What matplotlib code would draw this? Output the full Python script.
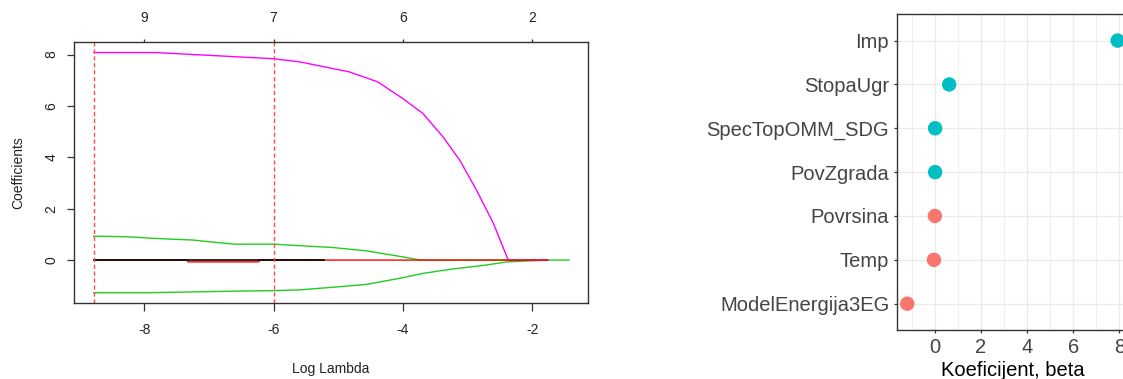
import matplotlib.pyplot as plt
import numpy as np

plt.rcParams['font.family'] = ['Liberation Sans', 'DejaVu Sans']
plt.rcParams['axes.unicode_minus'] = False

# lasso coefficient paths (log lambda, coefficient)
imp_loglam = [-8.78, -7.81, -6.0, -5.6, -4.83, -4.39, -4.0, -3.69, -3.38, -3.12, -2.86, -2.6, -2.37, -1.76]
imp_coef = [8.08, 8.08, 7.84, 7.72, 7.33, 6.94, 6.29, 5.71, 4.80, 3.89, 2.72, 1.43, 0.0, 0.0]

pos_loglam = [-8.78, -8.27, -7.81, -7.24, -6.98, -6.6, -6.0, -5.6, -5.09, -4.57, -4.11, -3.72, -1.76]
pos_coef = [0.93, 0.91, 0.84, 0.78, 0.71, 0.62, 0.62, 0.56, 0.49, 0.36, 0.17, 0.0, 0.0]

neg_loglam = [-8.78, -7.91, -6.6, -6.0, -5.6, -5.09, -4.57, -4.05, -3.69, -3.27, -2.7, -2.39, -1.76, -1.43]
neg_coef = [-1.27, -1.27, -1.21, -1.19, -1.16, -1.06, -0.95, -0.71, -0.52, -0.36, -0.19, -0.07, 0.0, 0.0]

red_loglam = [-8.78, -7.34, -7.32, -6.23, -6.21, -1.76]
red_coef = [0.0, 0.0, -0.07, -0.07, 0.0, 0.0]

black_loglam = [-8.78, -5.22]
black_coef = [0.0, 0.0]

lambda_min = -8.78
lambda_1se = -6.0
top_loglam = [-8, -6, -4, -2]
top_counts = ['9', '7', '6', '2']

# selected coefficients (right panel)
features = ['ModelEnergija3EG', 'Temp', 'Povrsina', 'PovZgrada', 'SpecTopOMM_SDG', 'StopaUgr', 'Imp']
beta = [-1.20, -0.04, 0.0, 0.01, 0.01, 0.62, 7.93]

fig = plt.figure(figsize=(11.23, 3.79), dpi=100)

# ---- left: glmnet style path plot ----
ax1 = fig.add_axes([0.0662, 0.2013, 0.4572, 0.6871])
ax1.plot(neg_loglam, neg_coef, color='#1fcc1f', lw=1.0)
ax1.plot(pos_loglam, pos_coef, color='#1fcc1f', lw=1.0)
ax1.plot(imp_loglam, imp_coef, color='#ff00ff', lw=1.0)
ax1.plot(red_loglam, red_coef, color='#ff0000', lw=1.0)
ax1.plot(black_loglam, black_coef, color='black', lw=1.2)
for v in [lambda_min, lambda_1se]:
    ax1.axvline(v, color='#ff4a4a', lw=1.0, linestyle=(0, (3, 2)))

ax1.set_xlim(-9.08, -1.14)
ax1.set_ylim(-1.66, 8.48)
ax1.set_xticks([-8, -6, -4, -2], ['-8', '-6', '-4', '-2'])
ax1.set_yticks([0, 2, 4, 6, 8], ['0', '2', '4', '6', '8'])
plt.setp(ax1.get_yticklabels(), rotation=90, va='center')
ax1.tick_params(length=5.4, width=0.9, color='#333333', labelsize=10, labelcolor='#222222')
ax1.tick_params(axis='x', pad=9)
ax1.tick_params(axis='y', pad=6)
for s in ax1.spines.values():
    s.set_color('#333333')
    s.set_linewidth(1.0)
ax1.set_xlabel('Log Lambda', fontsize=10, color='#222222', labelpad=18)
ax1.set_ylabel('Coefficients', fontsize=10, color='#222222', labelpad=14)

top = ax1.secondary_xaxis('top')
top.set_xticks(top_loglam, top_counts)
top.tick_params(length=2.2, width=0.9, color='#333333', labelsize=10, labelcolor='#222222', pad=10.5)
top.spines['top'].set_visible(False)

# ---- right: ggplot style dot plot ----
teal = '#00BFC4'
salmon = '#F8766D'
colors = [teal if b > 0 else salmon for b in beta]
rng = max(beta) - min(beta)
ypos = np.arange(len(features))

ax2 = fig.add_axes([0.7985, 0.1293, 0.2061, 0.833])
ax2.scatter(beta, ypos, c=colors, s=108, linewidths=0, zorder=3, clip_on=False)
ax2.set_xlim(min(beta) - 0.05 * rng, max(beta) + 0.05 * rng)
ax2.set_ylim(-0.6, len(features) - 0.4)
ax2.set_xticks([0, 2, 4, 6, 8])
ax2.set_xticks([-1, 1, 3, 5, 7], minor=True)
ax2.set_yticks(ypos, features)
ax2.grid(which='major', color='#EBEBEB', lw=1.0)
ax2.grid(which='minor', axis='x', color='#EBEBEB', lw=0.6)
ax2.set_axisbelow(True)
ax2.tick_params(which='major', length=2.4, width=0.9, color='#333333',
                labelsize=14.5, labelcolor='#444444')
ax2.tick_params(which='minor', length=0)
ax2.tick_params(axis='y', pad=3)
ax2.tick_params(axis='x', pad=3.5)
for s in ax2.spines.values():
    s.set_color('#333333')
    s.set_linewidth(1.0)
ax2.set_xlabel('Koeficijent, beta', fontsize=14.5, color='black', labelpad=2.5)

fig.savefig('out.png', dpi=100)
